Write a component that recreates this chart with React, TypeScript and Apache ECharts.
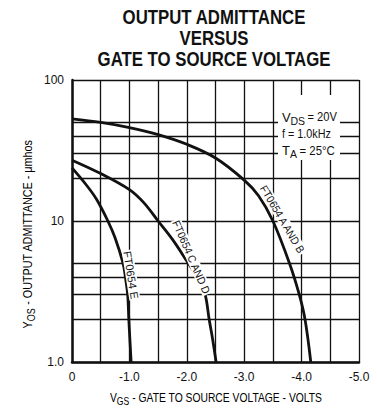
import React, { useEffect, useRef } from "react";
import * as echarts from "echarts";

const xTickValues = [0, -1, -2, -3, -4, -5];
const yMinorGrid = [2, 3, 4, 5, 20, 30, 40, 50];

const vgsAB = [0, -0.5, -1.0, -1.5, -2.0, -2.5, -3.0, -3.25, -3.5, -3.79, -3.96, -4.06, -4.16];
const yosAB = [53, 50, 46, 41, 35, 28, 19.5, 15.1, 10, 5, 3, 2, 1];

const vgsCD = [0, -0.5, -1.0, -1.25, -1.5, -1.75, -2.0, -2.2, -2.32, -2.39, -2.45, -2.51];
const yosCD = [27, 21.7, 16.7, 13.5, 10, 7.4, 5.2, 3.9, 3, 2, 1.45, 1];

const vgsE = [0, -0.25, -0.43, -0.625, -0.75, -0.89, -0.93, -0.97, -0.99, -1.03];
const yosE = [23.8, 18, 14.2, 10, 7.6, 5, 4, 3, 2, 1];

const titleLines = ["OUTPUT ADMITTANCE", "VERSUS", "GATE TO SOURCE VOLTAGE"];
const curveNames = ["FT0654 A AND B", "FT0654 C AND D", "FT0654 E"];

const FONT = "'Liberation Sans', Arial, sans-serif";
const INK = "#111";

function pairs(xs: number[], ys: number[]) {
  return xs.map((x, i) => [x, ys[i]]);
}

function fmtX(v: number) {
  if (v === 0) return "0";
  return v.toFixed(1);
}

function txt(x: number, y: number, text: string, size: number, extra: any = {}) {
  const { scaleX, rotation, ...style } = extra;
  const el: any = {
    type: "text",
    x,
    y,
    z: 100,
    style: {
      text,
      font: `${size}px ${FONT}`,
      fill: INK,
      align: "left",
      verticalAlign: "middle",
      ...style,
    },
  };
  if (scaleX !== undefined) el.scaleX = scaleX;
  if (rotation !== undefined) el.rotation = rotation;
  return el;
}

export default function App() {
  const ref = useRef<HTMLDivElement>(null);

  useEffect(() => {
    if (!ref.current) return;
    const chart = echarts.init(ref.current, null, { renderer: "svg" });
    const curveStyle = { color: INK, width: 2.8 };
    const rich = {
      t: { fontSize: 12, fontFamily: FONT, color: INK },
      s: { fontSize: 10, fontFamily: FONT, color: INK, padding: [7, 0, 0, 0] },
    };
    const curveSeries = (name: string, xs: number[], ys: number[]) => ({
      type: "line",
      name,
      data: pairs(xs, ys),
      smooth: 0.35,
      showSymbol: false,
      lineStyle: curveStyle,
      z: 5,
    });
    const curveLabel = (x: number, y: number, text: string, deg: number, scaleX: number) => ({
      type: "text",
      x,
      y,
      rotation: (-deg * Math.PI) / 180,
      scaleX,
      z: 100,
      style: {
        text,
        font: `11px ${FONT}`,
        fill: INK,
        align: "center",
        verticalAlign: "middle",
        backgroundColor: "#fff",
        padding: [0, 1],
      },
    });
    const option: any = {
      animation: false,
      backgroundColor: "#fff",
      grid: { left: 72, right: 18, top: 80, bottom: 48, containLabel: false },
      xAxis: {
        type: "value",
        min: -5,
        max: 0,
        interval: 0.5,
        inverse: true,
        axisLine: { show: true, onZero: false, lineStyle: { color: INK, width: 2.5 } },
        axisTick: { show: false },
        splitLine: { show: true, lineStyle: { color: INK, width: 1.3 } },
        axisLabel: {
          formatter: (v: number) => (xTickValues.includes(v) ? fmtX(v) : ""),
          color: INK,
          fontSize: 12,
          fontFamily: FONT,
          margin: 9,
        },
      },
      yAxis: {
        type: "log",
        logBase: 10,
        min: 1,
        max: 100,
        axisLine: { show: true, onZero: false, lineStyle: { color: INK, width: 2.5 } },
        axisTick: { show: false },
        splitLine: { show: true, lineStyle: { color: INK, width: 1.3 } },
        axisLabel: {
          formatter: (v: number) => (v === 1 ? "1.0" : String(v)),
          color: INK,
          fontSize: 12,
          fontFamily: FONT,
          margin: 8,
        },
      },
      series: [
        {
          type: "line",
          name: "grid",
          data: [],
          silent: true,
          markLine: {
            silent: true,
            symbol: "none",
            label: { show: false },
            lineStyle: { color: INK, width: 1.3, type: "solid" },
            data: yMinorGrid.map((v) => ({ yAxis: v })),
          },
        },
        curveSeries(curveNames[0], vgsAB, yosAB),
        curveSeries(curveNames[1], vgsCD, yosCD),
        curveSeries(curveNames[2], vgsE, yosE),
      ],
      graphic: [
        ...titleLines.map((t, i) => ({
          type: "text",
          x: 214,
          y: [17, 38, 59][i],
          scaleX: 0.8,
          z: 100,
          style: {
            text: t,
            font: `bold 21px ${FONT}`,
            fill: INK,
            align: "center",
            verticalAlign: "middle",
            lineHeight: 19,
          },
        })),
        {
          type: "text",
          x: 28,
          y: 234,
          rotation: Math.PI / 2,
          scaleX: 0.9,
          z: 100,
          style: {
            text: "{t|Y}{s|OS}{t| - OUTPUT ADMITTANCE - μmhos}",
            rich,
            align: "center",
            verticalAlign: "middle",
          },
        },
        {
          type: "text",
          x: 216,
          y: 398,
          scaleX: 0.86,
          z: 100,
          style: {
            text: "{t|V}{s|GS}{t| - GATE TO SOURCE VOLTAGE - VOLTS}",
            rich,
            align: "center",
            verticalAlign: "middle",
          },
        },
        {
          type: "rect",
          z: 90,
          shape: { x: 278, y: 95, width: 62, height: 65 },
          style: { fill: "#fff" },
        },
        txt(282, 117, "V", 13),
        txt(290.5, 121, "DS", 10.5),
        txt(307.5, 117, "= 20V", 12, { scaleX: 0.93 }),
        txt(282, 133.5, "f = 1.0kHz", 12, { scaleX: 0.9 }),
        txt(282, 150, "T", 13),
        txt(290, 154, "A", 10.5),
        txt(299.5, 150, "= 25°C", 12, { scaleX: 0.95 }),
        curveLabel(282.5, 219, curveNames[0], 59.5, 0.92),
        curveLabel(191.5, 257, curveNames[1], 66.5, 0.92),
        curveLabel(131, 275, curveNames[2], 81, 1),
      ],
    };
    chart.setOption(option);
    return () => chart.dispose();
  }, []);

  return (
    <div
      ref={ref}
      style={{ position: "absolute", left: 0, top: 0, width: 377, height: 410, background: "#fff" }}
    />
  );
}
